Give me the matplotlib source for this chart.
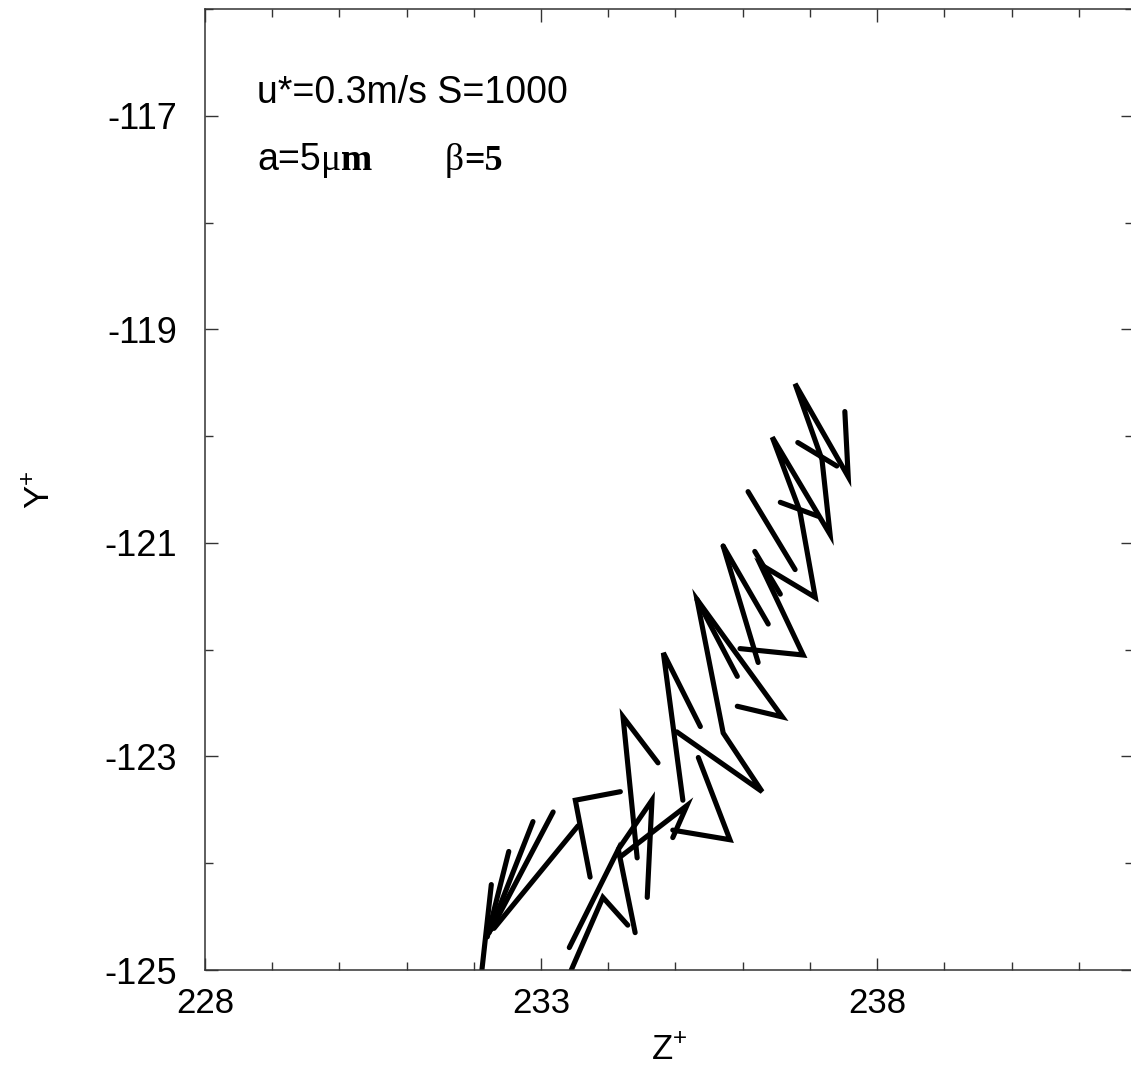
import matplotlib
matplotlib.use("Agg")
import matplotlib.pyplot as plt
from matplotlib.ticker import MultipleLocator

plt.rcParams['font.family'] = ['Liberation Sans', 'DejaVu Sans']
plt.rcParams['mathtext.fontset'] = 'custom'
plt.rcParams['mathtext.rm'] = 'Liberation Sans'
plt.rcParams['mathtext.it'] = 'Liberation Sans'

# ---- data: fibre segments (Z+, Y+) ----
fan_z = [[232.12, 232.26], [232.20, 232.52], [232.23, 232.88],
         [232.26, 233.18], [232.30, 233.55]]
fan_y = [[-125.00, -124.20], [-124.69, -123.89], [-124.65, -123.61],
         [-124.62, -123.52], [-124.61, -123.65]]

low_z = [[233.73, 233.51, 234.18],
         [233.45, 233.92, 234.29],
         [233.42, 234.15, 234.40],
         [234.15, 234.65, 234.58],
         [234.18, 235.17, 234.96]]
low_y = [[-124.13, -123.41, -123.33],
         [-125.00, -124.32, -124.58],
         [-124.79, -123.87, -124.65],
         [-123.87, -123.41, -124.32],
         [-123.94, -123.46, -123.76]]

up_z = [[237.52, 237.57, 236.78, 237.18, 237.30, 236.44, 236.85, 237.08, 236.26, 236.90, 235.96],
        [236.82, 237.40],
        [236.56, 237.12],
        [236.08, 236.78],
        [236.18, 236.56],
        [235.71, 236.38],
        [235.71, 236.23],
        [235.32, 235.92],
        [235.92, 236.59, 235.32, 235.71, 236.29, 235.02],
        [235.37, 234.82, 235.11],
        [235.34, 235.81, 234.96],
        [234.74, 234.22, 234.43]]
up_y = [[-119.77, -120.38, -119.51, -120.22, -120.92, -120.01, -120.70, -121.51, -121.20, -122.05, -121.99],
        [-120.06, -120.28],
        [-120.62, -120.75],
        [-120.52, -121.25],
        [-121.08, -121.48],
        [-121.03, -121.76],
        [-121.03, -122.12],
        [-121.53, -122.25],
        [-122.53, -122.63, -121.53, -122.78, -123.33, -122.77],
        [-122.72, -122.03, -123.41],
        [-123.01, -123.78, -123.69],
        [-123.06, -122.63, -123.95]]

xlim = (228, 241.8)
ylim = (-125, -116)
xticks_major = [228, 233, 238]
yticks_major = [-125, -123, -121, -119, -117]
ytick_labels = ['-125', '-123', '-121', '-119', '-117']

# ---- figure ----
W, H = 1131, 1068
fig = plt.figure(figsize=(W / 100, H / 100), dpi=100)
ax = fig.add_axes([205 / W, 1 - 970 / H, (1132.5 - 205) / W, (970 - 9) / H])

for zs, ys in zip(fan_z + low_z + up_z, fan_y + low_y + up_y):
    ax.plot(zs, ys, color='black', lw=3.7, solid_capstyle='round',
            solid_joinstyle='miter', clip_on=True)

ax.set_xlim(*xlim)
ax.set_ylim(*ylim)
ax.set_xticks(xticks_major)
ax.set_yticks(yticks_major)
ax.set_yticklabels(ytick_labels)
ax.xaxis.set_minor_locator(MultipleLocator(1))
ax.yaxis.set_minor_locator(MultipleLocator(1))
ax.tick_params(which='both', direction='in', top=True, right=True,
               width=1.0, color='#333333')
ax.tick_params(which='major', length=9)
ax.tick_params(which='minor', length=5.5)
ax.tick_params(axis='x', which='major', labelsize=25, pad=12)
ax.tick_params(axis='y', which='major', labelsize=26, pad=20)
for sp in ax.spines.values():
    sp.set_linewidth(1.1)
    sp.set_color('#333333')

ax.set_xlabel('Z$^{+}$', fontsize=25, labelpad=10)
ax.set_ylabel('Y$^{+}$', fontsize=25, labelpad=34)

# ---- annotations ----
ax.text(228.78, -116.88, 'u*=0.3m/s S=1000', fontsize=27, va='baseline', ha='left')
t1 = ax.text(228.78, -117.51, 'a=5', fontsize=27, va='baseline', ha='left')
t2 = ax.annotate('\u03bc', xy=(1, 0), xycoords=t1, va='bottom', ha='left',
                 fontsize=27, family=['Liberation Serif', 'DejaVu Serif'])
t3 = ax.annotate('m', xy=(1, 0), xycoords=t2, va='bottom', ha='left',
                 fontsize=27, family=['Liberation Serif', 'DejaVu Serif'], weight='bold')
t4 = ax.text(231.57, -117.51, '\u03b2', fontsize=27, va='baseline', ha='left',
             family=['Liberation Serif', 'DejaVu Serif'])
ax.annotate('=5', xy=(1, 0), xycoords=t4, va='bottom', ha='left',
            fontsize=26, family=['Liberation Serif', 'DejaVu Serif'], weight='bold')

fig.savefig('out.png', dpi=100)
